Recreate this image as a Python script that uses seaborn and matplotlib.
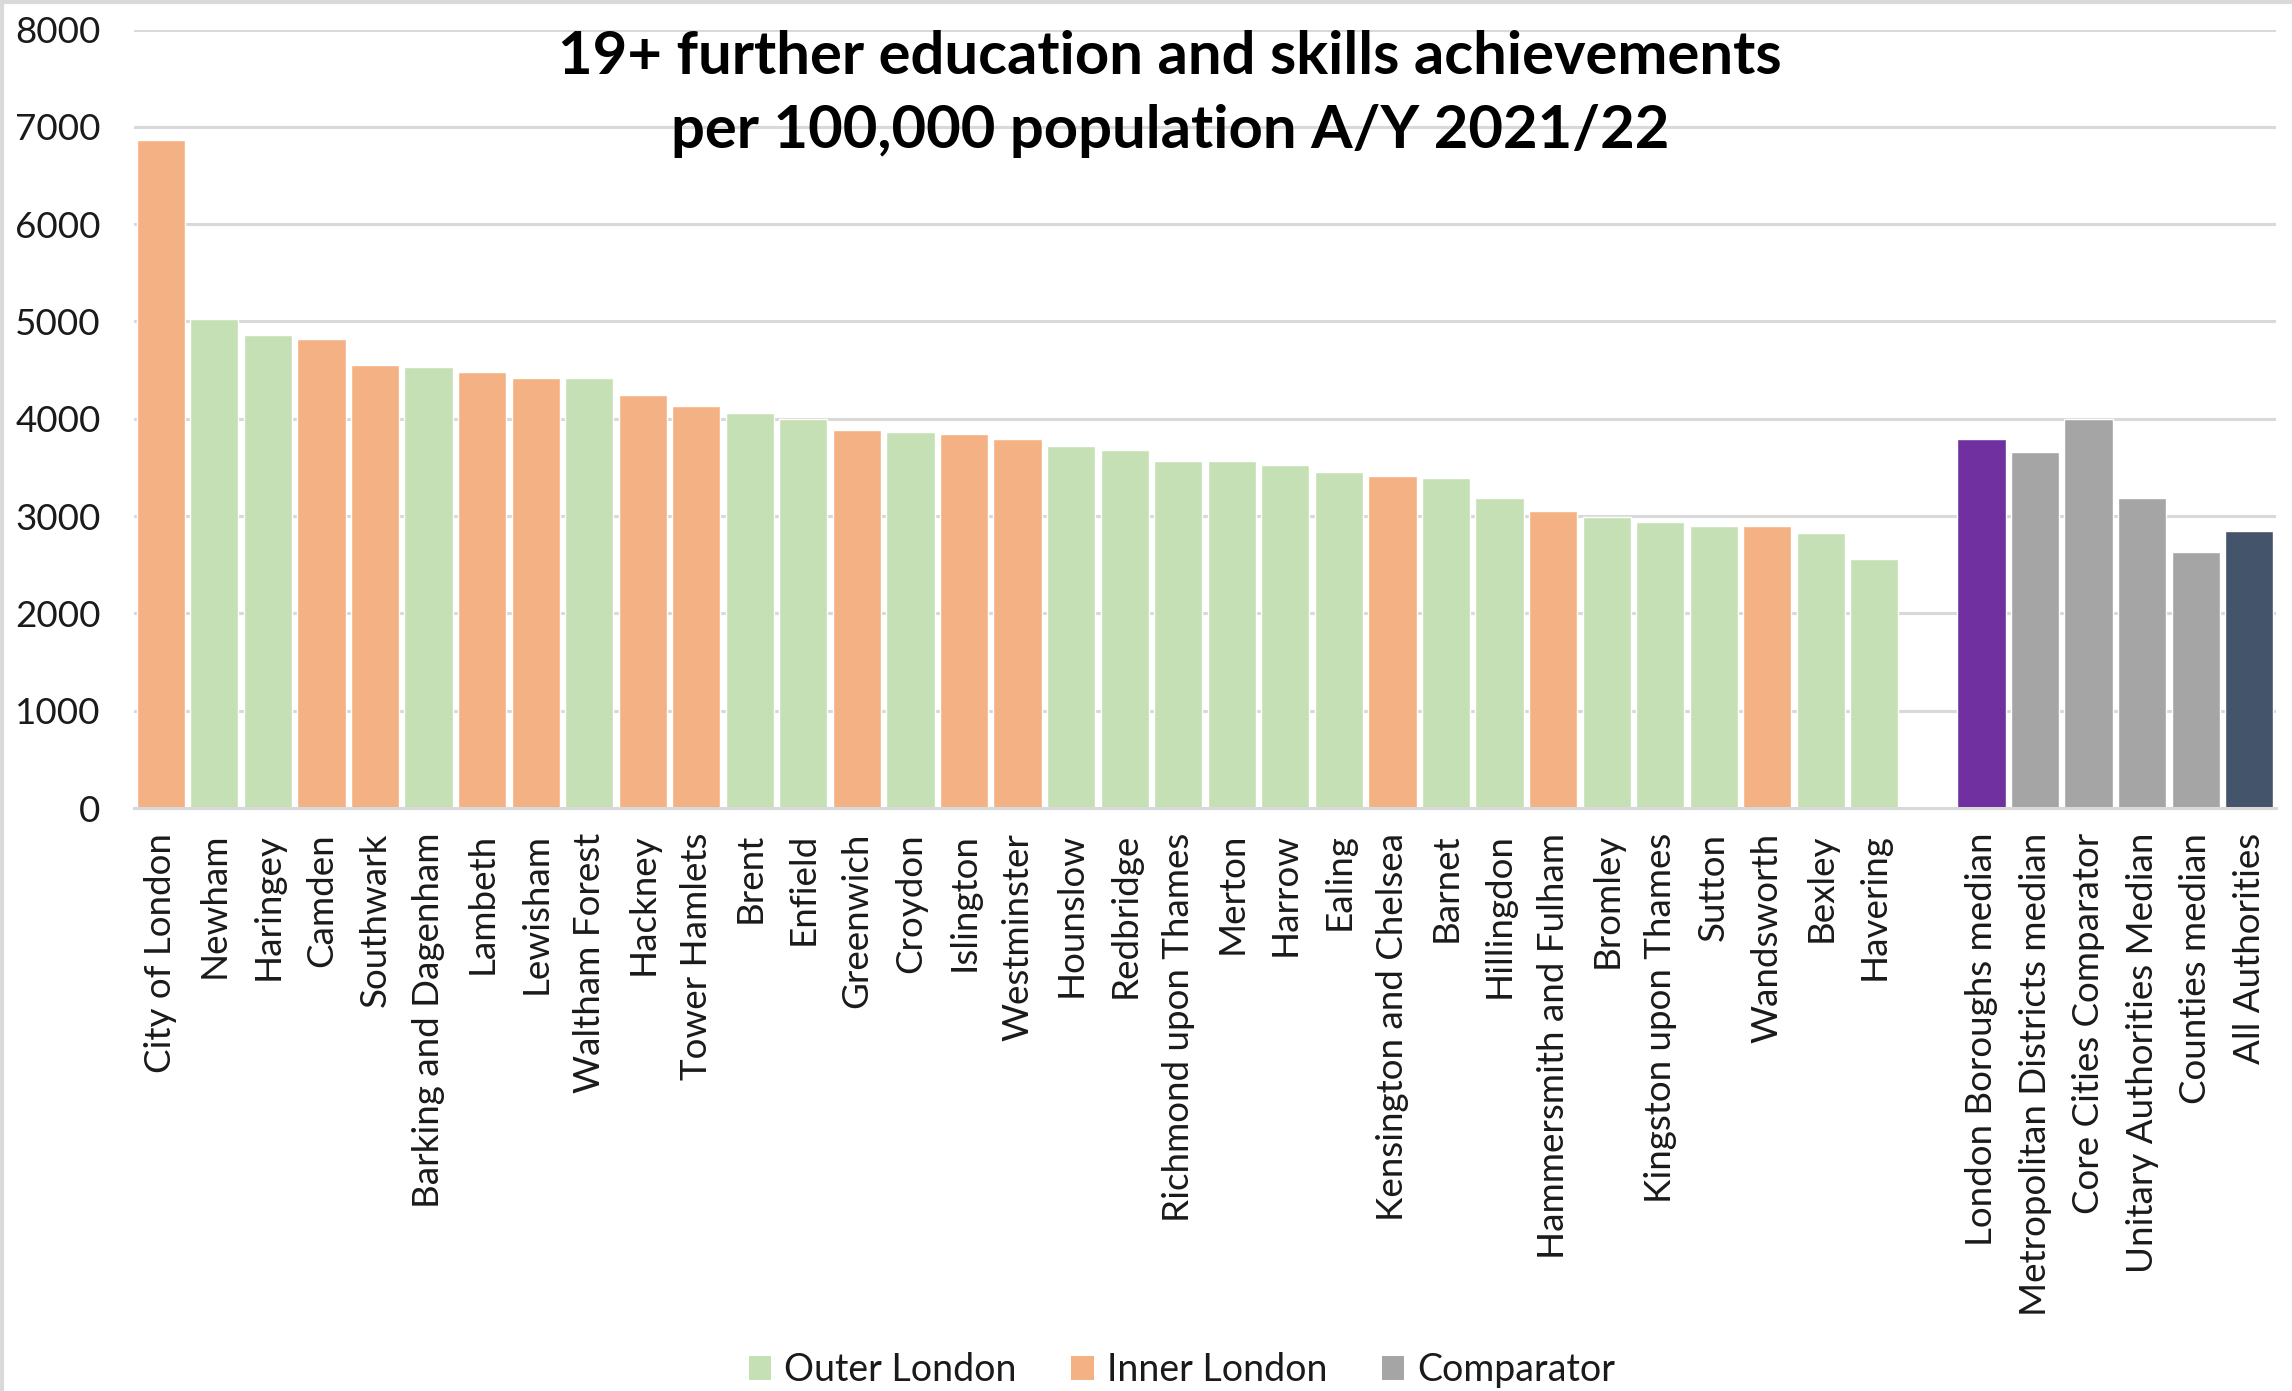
import matplotlib
matplotlib.use("Agg")
import matplotlib.pyplot as plt
from matplotlib.lines import Line2D
from matplotlib.patches import Patch
import pandas as pd
import seaborn as sns

# London boroughs, sorted by achievements per 100,000 population
boroughs = [
    "City of London", "Newham", "Haringey", "Camden", "Southwark",
    "Barking and Dagenham", "Lambeth", "Lewisham", "Waltham Forest", "Hackney",
    "Tower Hamlets", "Brent", "Enfield", "Greenwich", "Croydon",
    "Islington", "Westminster", "Hounslow", "Redbridge", "Richmond upon Thames",
    "Merton", "Harrow", "Ealing", "Kensington and Chelsea", "Barnet",
    "Hillingdon", "Hammersmith and Fulham", "Bromley", "Kingston upon Thames", "Sutton",
    "Wandsworth", "Bexley", "Havering",
]
borough_values = [
    6860, 5020, 4860, 4820, 4550,
    4530, 4480, 4420, 4420, 4240,
    4130, 4060, 4000, 3880, 3860,
    3840, 3790, 3720, 3680, 3570,
    3570, 3520, 3450, 3410, 3390,
    3190, 3050, 2990, 2940, 2900,
    2900, 2830, 2560,
]
borough_groups = [
    "Inner London", "Outer London", "Outer London", "Inner London", "Inner London",
    "Outer London", "Inner London", "Inner London", "Outer London", "Inner London",
    "Inner London", "Outer London", "Outer London", "Inner London", "Outer London",
    "Inner London", "Inner London", "Outer London", "Outer London", "Outer London",
    "Outer London", "Outer London", "Outer London", "Inner London", "Outer London",
    "Outer London", "Inner London", "Outer London", "Outer London", "Outer London",
    "Inner London", "Outer London", "Outer London",
]

# Comparator groups shown to the right of the boroughs
comparators = [
    "London Boroughs median", "Metropolitan Districts median", "Core Cities Comparator",
    "Unitary Authorities Median", "Counties median", "All Authorities",
]
comparator_values = [3790, 3660, 4000, 3190, 2630, 2850]
comparator_groups = [
    "London median", "Comparator", "Comparator",
    "Comparator", "Comparator", "All Authorities",
]

legend_groups = ["Outer London", "Inner London", "Comparator"]

palette = {
    "Outer London": "#C5E0B4",
    "Inner London": "#F4B183",
    "Comparator": "#A5A5A5",
    "London median": "#7030A0",
    "All Authorities": "#44546A",
}

GAP = " "  # empty slot separating boroughs from comparators
order = boroughs + [GAP] + comparators

df = pd.DataFrame({
    "area": boroughs + comparators,
    "value": borough_values + comparator_values,
    "group": borough_groups + comparator_groups,
})

sns.set_theme(style="white")
plt.rcParams["font.family"] = ["Lato", "DejaVu Sans"]

W, H = 2292, 1391
fig = plt.figure(figsize=(W / 100, H / 100), dpi=100)
left, right, top, bottom = 134, 2276, 29.5, 808
ax = fig.add_axes([left / W, 1 - bottom / H, (right - left) / W, (bottom - top) / H])

sns.barplot(
    data=df, x="area", y="value", hue="group", order=order,
    palette=palette, dodge=False, width=0.9, saturation=1,
    legend=False, ax=ax,
)

ax.set_xlim(-0.5, len(order) - 0.5)
ax.set_ylim(0, 8000)
ax.set_yticks(range(0, 8001, 1000))
ax.set_xlabel("")
ax.set_ylabel("")

grid_color = "#D9D9D9"
ax.yaxis.grid(True, color=grid_color, linewidth=2.2)
ax.xaxis.grid(False)
ax.set_axisbelow(True)
for side in ["left", "right", "top"]:
    ax.spines[side].set_visible(False)
ax.spines["bottom"].set_color(grid_color)
ax.spines["bottom"].set_linewidth(2.2)

ax.tick_params(axis="y", length=0, pad=24, labelsize=26.5, labelcolor="#1a1a1a")
ax.tick_params(axis="x", length=0, pad=18, labelsize=26.5, labelcolor="#1a1a1a")
plt.setp(ax.get_xticklabels(), rotation=90, ha="center", va="top")

fig.text(
    1170 / W, 1 - 94 / H,
    "19+ further education and skills achievements\nper 100,000 population A/Y 2021/22",
    ha="center", va="center", fontsize=43, fontweight="bold",
    linespacing=1.45, color="black",
)

handles = [Patch(facecolor=palette[g], edgecolor="none") for g in legend_groups]
fig.legend(
    handles, legend_groups, loc="center", bbox_to_anchor=(1182 / W, 1 - 1370 / H),
    ncol=3, frameon=False, fontsize=27, handlelength=0.6, handleheight=0.6,
    handletextpad=0.35, columnspacing=1.45, labelcolor="#1a1a1a",
)

# Light chart-area border along the left and top edges
fig.add_artist(Line2D([2 / W, 2 / W], [0, 1], transform=fig.transFigure,
                      color=grid_color, linewidth=3))
fig.add_artist(Line2D([0, 1], [1 - 1.5 / H, 1 - 1.5 / H], transform=fig.transFigure,
                      color=grid_color, linewidth=3))

fig.savefig("out.png", dpi=100)
